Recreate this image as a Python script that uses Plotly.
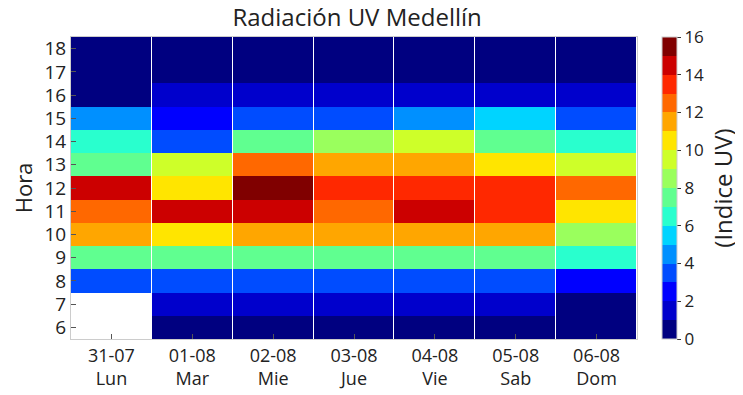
import plotly.graph_objects as go

dias = ["31-07<br>Lun", "01-08<br>Mar", "02-08<br>Mie", "03-08<br>Jue",
        "04-08<br>Vie", "05-08<br>Sab", "06-08<br>Dom"]
horas = [6, 7, 8, 9, 10, 11, 12, 13, 14, 15, 16, 17, 18]

# UV index per day (rows = hours 6..18)
lun = [None, None, 3.5, 7.5, 11.5, 12.5, 14.5, 7.5, 6.5, 4.5, 0.5, 0.5, 0.5]
mar = [0.5, 1.5, 3.5, 7.5, 10.5, 14.5, 10.5, 9.5, 3.5, 2.5, 1.5, 0.5, 0.5]
mie = [0.5, 1.5, 3.5, 7.5, 11.5, 14.5, 15.5, 12.5, 7.5, 3.5, 1.5, 0.5, 0.5]
jue = [0.5, 1.5, 3.5, 7.5, 11.5, 12.5, 13.5, 11.5, 8.5, 3.5, 1.5, 0.5, 0.5]
vie = [0.5, 1.5, 3.5, 7.5, 11.5, 14.5, 13.5, 11.5, 9.5, 4.5, 1.5, 0.5, 0.5]
sab = [0.5, 1.5, 3.5, 7.5, 11.5, 13.5, 13.5, 10.5, 7.5, 5.5, 1.5, 0.5, 0.5]
dom = [0.5, 0.5, 2.5, 6.5, 8.5, 10.5, 12.5, 9.5, 6.5, 3.5, 1.5, 0.5, 0.5]

columnas = [lun, mar, mie, jue, vie, sab, dom]
z = [[col[i] for col in columnas] for i in range(len(horas))]

niveles = ["#000080", "#0000cc", "#0000ff", "#004cff", "#0090ff", "#00d4ff",
           "#29ffce", "#60ff90", "#9aff5d", "#ceff29", "#ffe500", "#ffa600",
           "#ff6800", "#ff2800", "#cc0000", "#800000"]
n = len(niveles)
colorscale = []
for i, c in enumerate(niveles):
    colorscale.append([i / n, c])
    colorscale.append([(i + 1) / n, c])

FONT = "Open Sans"
fig = go.Figure(go.Heatmap(
    z=z, x=list(range(len(dias))), y=horas,
    colorscale=colorscale, zmin=0, zmax=16, xgap=1,
    colorbar=dict(
        thickness=15, len=1.0, lenmode="fraction", y=0.5, yanchor="middle",
        x=1.044, xanchor="left", xpad=0, ypad=0,
        outlinewidth=1, outlinecolor="#cccccc",
        tickvals=[0, 2, 4, 6, 8, 10, 12, 14, 16], ticks="outside", ticklen=4,
        tickcolor="#333", tickfont=dict(size=17, color="#222", family=FONT),
        title=dict(text="(Indice UV)", side="right",
                   font=dict(size=24, color="#222", family=FONT)),
    ),
    hoverongaps=False,
))

# the page body adds an 8px offset, so the figure is sized/margined to compensate
fig.update_layout(
    width=735, height=387,
    margin=dict(l=63, r=106, t=29, b=56, autoexpand=False),
    paper_bgcolor="white", plot_bgcolor="white",
    title=dict(text="Radiación UV Medellín", x=0.475, xanchor="center",
               y=0.998, yanchor="top",
               font=dict(size=24, color="#222", family=FONT)),
    font=dict(family=FONT, color="#222"),
)
fig.update_xaxes(
    tickvals=list(range(len(dias))), ticktext=dias, range=[-0.5, 6.5],
    ticks="inside", ticklen=5, tickcolor="#555", automargin=False,
    tickfont=dict(size=18, color="#222", family=FONT),
    showgrid=False, zeroline=False, showline=True, linecolor="#cccccc",
    mirror=True,
)
fig.update_yaxes(
    tickvals=horas, range=[5.5, 18.5], automargin=True,
    ticks="inside", ticklen=5, tickcolor="#555",
    tickfont=dict(size=19, color="#222", family=FONT),
    title=dict(text="Hora", font=dict(size=22, color="#222", family=FONT), standoff=13),
    showgrid=False, zeroline=False, showline=True, linecolor="#cccccc",
    mirror=True,
)

fig.write_html("out.html")
